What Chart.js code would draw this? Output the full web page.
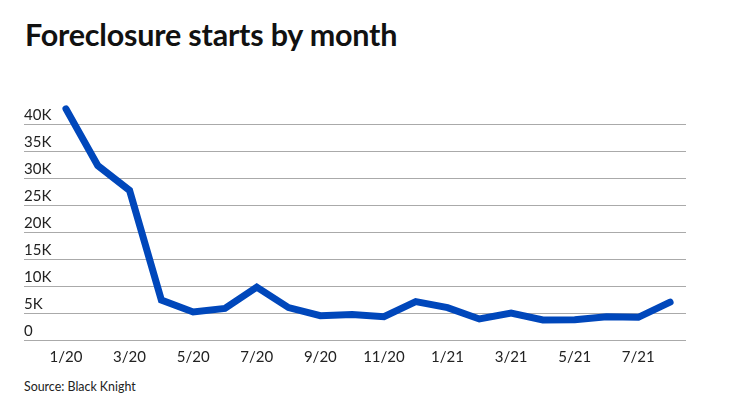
<!DOCTYPE html>
<html>
<head>
<meta charset="utf-8">
<script src="https://cdn.jsdelivr.net/npm/chart.js@4/dist/chart.umd.min.js"></script>
<style>
  html, body { margin: 0; padding: 0; background: #fff; }
  body { width: 740px; height: 416px; position: relative; overflow: hidden; font-family: Lato, sans-serif; }
  #title { position: absolute; left: 25px; top: 16px; font-size: 30.5px; font-weight: 700; color: #111; letter-spacing: -0.2px; }
  #wrap { position: absolute; left: 0; top: 70px; width: 740px; height: 296px; }
  #source { position: absolute; left: 24px; top: 379px; font-size: 12.4px; color: #222; }
</style>
</head>
<body>
<div id="title">Foreclosure starts by month</div>
<div id="wrap"><canvas id="chart"></canvas></div>
<div id="source">Source: Black Knight</div>
<script>
// months 1/20 .. 8/21
const months = ["1/20", "2/20", "3/20", "4/20", "5/20", "6/20", "7/20", "8/20", "9/20", "10/20",
    "11/20", "12/20", "1/21", "2/21", "3/21", "4/21", "5/21", "6/21", "7/21", "8/21"];
const starts = [42800, 32300, 27700, 7400, 5200, 5850, 9800, 6000, 4500, 4700,
    4300, 7100, 6000, 3900, 5000, 3700, 3750, 4300, 4200, 7000];
const xTicks = [0, 2, 4, 6, 8, 10, 12, 14, 16, 18];
const yTicks = [0, 5000, 10000, 15000, 20000, 25000, 30000, 35000, 40000];

const points = starts.map((v, i) => ({ x: i, y: v }));

new Chart(document.getElementById("chart"), {
    type: "line",
    data: {
        datasets: [{
            data: points,
            borderColor: "#0047bb",
            borderWidth: 7,
            borderCapStyle: "round",
            borderJoinStyle: "miter",
            pointRadius: 0,
            tension: 0,
            clip: false,
        }],
    },
    options: {
        responsive: true,
        maintainAspectRatio: false,
        animation: false,
        layout: { padding: { left: 24, right: 54, top: 27, bottom: 0 } },
        plugins: { legend: { display: false }, tooltip: { enabled: false } },
        scales: {
            x: {
                type: "linear",
                min: -1.32,
                max: 19.5,
                afterBuildTicks: (scale) => { scale.ticks = xTicks.map((v) => ({ value: v })); },
                grid: { display: false },
                border: { display: false },
                ticks: {
                    callback: (v) => months[v],
                    color: "#222",
                    font: { family: "Lato", size: 15 },
                    maxRotation: 0,
                    autoSkip: false,
                    padding: 0,
                },
            },
            y: {
                min: 0,
                max: 45000,
                afterBuildTicks: (scale) => { scale.ticks = yTicks.map((v) => ({ value: v })); },
                border: { display: false },
                grid: { color: "#aaa", lineWidth: 1, drawTicks: false },
                ticks: {
                    mirror: true,
                    padding: 0,
                    labelOffset: -9,
                    color: "#222",
                    font: { family: "Lato", size: 15 },
                    callback: (v) => (v === 0 ? "0" : v / 1000 + "K"),
                },
            },
        },
    },
});
</script>
</body>
</html>
